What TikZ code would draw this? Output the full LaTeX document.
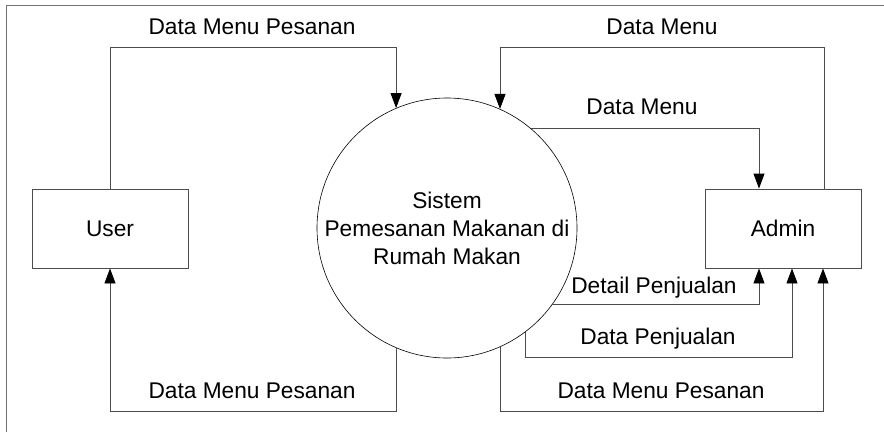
\documentclass[tikz,border=0pt]{standalone}
\usepackage{fontspec}
\setmainfont{Liberation Sans}
\usetikzlibrary{arrows.meta}
\begin{document}
\begin{tikzpicture}[x=1pt,y=-1pt,
  txt/.style={font=\fontsize{22.7}{28}\selectfont},
  lbl/.style={txt, inner sep=0, anchor=base},
  ent/.style={txt, draw=black!70, line width=0.9pt, minimum width=156pt, minimum height=79pt, inner sep=0},
  proc/.style={txt, draw=black, line width=0.6pt, circle, minimum size=260pt, inner sep=0, align=center},
  flow/.style={draw=black!70, line width=0.9pt, -{Triangle[length=15pt,width=11pt,black]}},
]
\useasboundingbox (0,0) rectangle (884,432);
\draw[black!55, line width=1pt] (6,432) -- (6,5) -- (884,5);

\node[ent] (user) at (110,228.5) {User};
\node[ent] (admin) at (783,228.5) {Admin};
\node[proc] (sys) at (447,228) {Sistem\\Pemesanan Makanan di\\Rumah Makan};

\coordinate (t1) at (0,47);
\coordinate (b1) at (0,357);
\coordinate (b2) at (0,411);

\draw[flow] (user.north) |- (t1 -| sys.113.1) -- (sys.113.1);
\draw[flow] ([xshift=41pt]admin.north) |- (t1 -| sys.66) -- (sys.66);
\draw[flow] (sys.50.3) -| ([xshift=-24pt]admin.north);
\draw[flow] (sys.-36.3) -| ([xshift=-24pt]admin.south);
\draw[flow] (sys.-53.1) -- (sys.-53.1 |- b1) -| ([xshift=9pt]admin.south);
\draw[flow] (sys.-66.9) -- (sys.-66.9 |- b2) -| ([xshift=40pt]admin.south);
\draw[flow] (sys.-113.5) -- (sys.-113.5 |- b2) -| (user.south);

\node[lbl] (l1) at (252,34) {Data Menu Pesanan};
\node[lbl] (l2) at (662,34) {Data Menu};
\node[lbl] (l3) at (642,114) {Data Menu};
\node[lbl] (l4) at (654,293) {Detail Penjualan};
\node[lbl] (l5) at (658,344) {Data Penjualan};
\node[lbl] (l6) at (661,398) {Data Menu Pesanan};
\node[lbl] (l7) at (252,398) {Data Menu Pesanan};
\end{tikzpicture}
\end{document}
